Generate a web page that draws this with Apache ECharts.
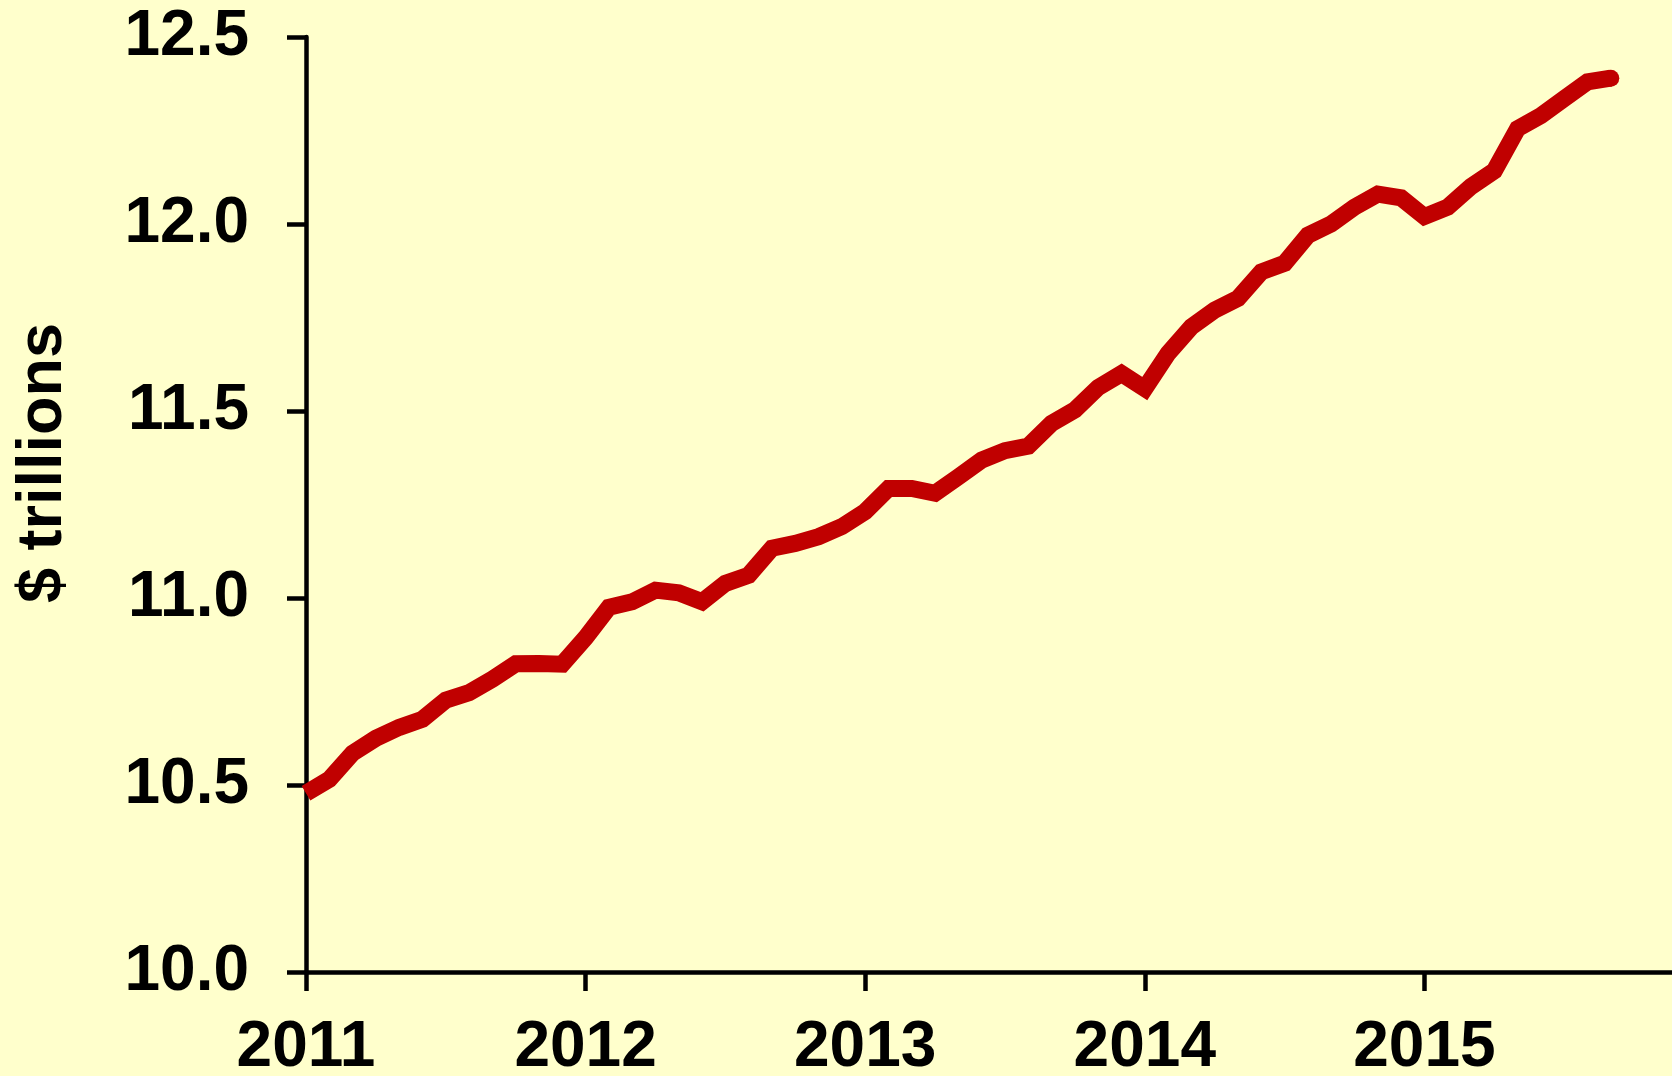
<!DOCTYPE html>
<html>
<head>
<meta charset="utf-8">
<script src="https://cdn.jsdelivr.net/npm/echarts@6/dist/echarts.min.js"></script>
<style>
  html, body { margin: 0; padding: 0; background: #FFFFCC; }
  #chart { width: 1672px; height: 1076px; }
</style>
</head>
<body>
<div id="chart"></div>
<script>
// monthly values, Jan 2011 .. Sep 2015 ($ trillions)
var months = [
  '2011-01','2011-02','2011-03','2011-04','2011-05','2011-06','2011-07','2011-08','2011-09','2011-10','2011-11','2011-12',
  '2012-01','2012-02','2012-03','2012-04','2012-05','2012-06','2012-07','2012-08','2012-09','2012-10','2012-11','2012-12',
  '2013-01','2013-02','2013-03','2013-04','2013-05','2013-06','2013-07','2013-08','2013-09','2013-10','2013-11','2013-12',
  '2014-01','2014-02','2014-03','2014-04','2014-05','2014-06','2014-07','2014-08','2014-09','2014-10','2014-11','2014-12',
  '2015-01','2015-02','2015-03','2015-04','2015-05','2015-06','2015-07','2015-08','2015-09'
];
var values = [
  10.478, 10.515, 10.585, 10.625, 10.654, 10.676, 10.727, 10.747, 10.783, 10.824, 10.825, 10.823,
  10.894, 10.975, 10.990, 11.021, 11.014, 10.990, 11.039, 11.061, 11.133, 11.146, 11.164, 11.191,
  11.231, 11.293, 11.293, 11.280, 11.324, 11.369, 11.394, 11.406, 11.467, 11.503, 11.563, 11.600,
  11.560, 11.654, 11.725, 11.770, 11.801, 11.872, 11.895, 11.970, 12.000, 12.045, 12.080, 12.070,
  12.020, 12.045, 12.100, 12.142, 12.255, 12.290, 12.335, 12.380, 12.390
];
var yearLabels = ['2011', '2012', '2013', '2014', '2015'];
var yTicks = [10.0, 10.5, 11.0, 11.5, 12.0, 12.5];
var axisName = '$ trillions';

var FONT = "'Liberation Sans', Arial, sans-serif";
var LINE_W = 17;

var chart = echarts.init(document.getElementById('chart'), null, { renderer: 'canvas' });

var seriesData = values.map(function (v, i) { return [i, v]; });
var lastIdx = values.length - 1;

var option = {
  backgroundColor: '#FFFFCC',
  animation: false,
  // 60 months wide, so the axis runs past the right edge like the original
  grid: { left: 306, top: 37, bottom: 104, width: 1398, outerBoundsMode: 'none', containLabel: false },
  xAxis: {
    type: 'value',
    min: 0,
    max: 60,
    interval: 12,
    z: 3,
    splitLine: { show: false },
    axisLine: { show: true, lineStyle: { color: '#000', width: 4.5 } },
    axisTick: { show: true, length: 19, lineStyle: { color: '#000', width: 4.5 } },
    axisLabel: {
      margin: 44,
      color: '#000',
      fontFamily: FONT,
      fontWeight: 'bold',
      fontSize: 64,
      formatter: function (v) { return yearLabels[Math.round(v / 12)] || ''; }
    }
  },
  yAxis: {
    type: 'value',
    min: yTicks[0],
    max: yTicks[yTicks.length - 1],
    interval: 0.5,
    z: 3,
    splitLine: { show: false },
    axisLine: { show: true, lineStyle: { color: '#000', width: 4.5 } },
    axisTick: { show: true, length: 19, lineStyle: { color: '#000', width: 4.5 } },
    axisLabel: {
      margin: 57,
      color: '#000',
      fontFamily: FONT,
      fontWeight: 'bold',
      fontSize: 64,
      formatter: function (v) { return v.toFixed(1); }
    }
  },
  graphic: [{
    type: 'text',
    x: 44,
    y: 463,
    rotation: Math.PI / 2,
    style: {
      text: axisName,
      fill: '#000',
      font: 'bold 63px ' + FONT,
      align: 'center',
      verticalAlign: 'middle'
    }
  }],
  series: [{
    type: 'line',
    name: 'value',
    data: seriesData,
    showSymbol: true,
    symbol: 'circle',
    symbolSize: function (val, params) { return params.dataIndex === lastIdx ? LINE_W : 0; },
    itemStyle: { color: '#C00000' },
    lineStyle: { color: '#C00000', width: LINE_W, join: 'miter', cap: 'butt' },
    emphasis: { disabled: true }
  }]
};

chart.setOption(option);
</script>
</body>
</html>
